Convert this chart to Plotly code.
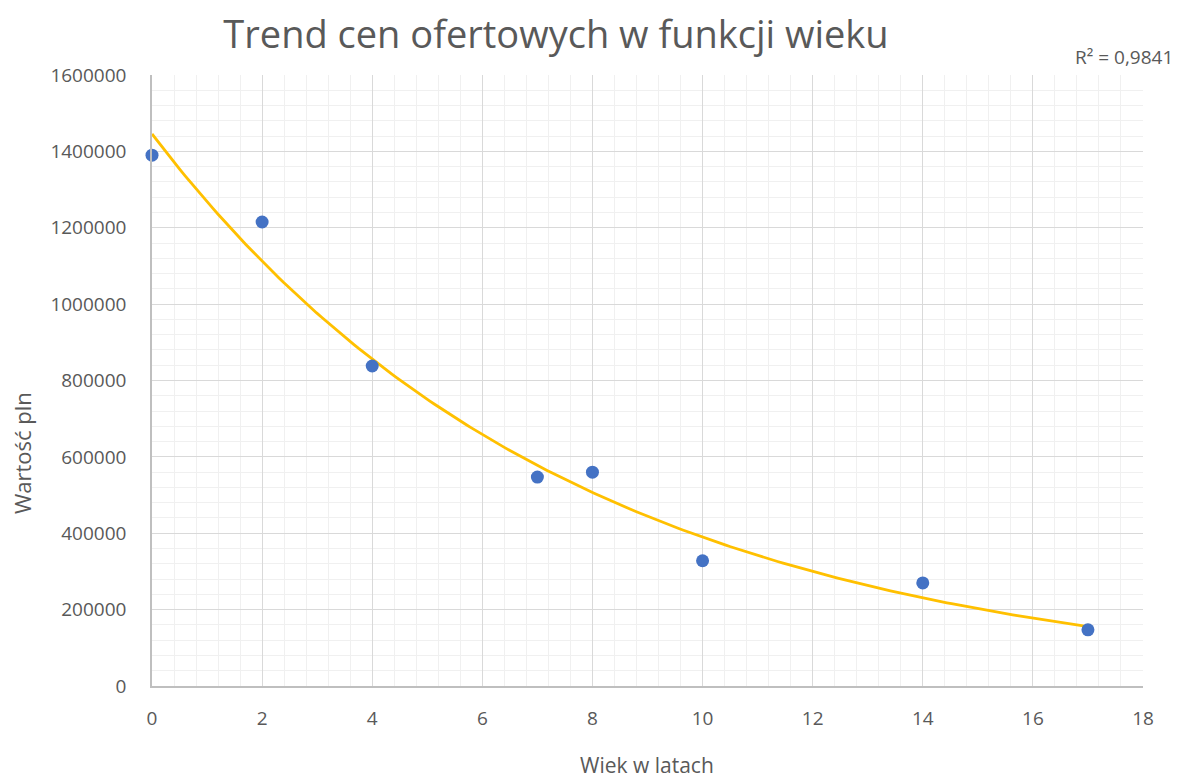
import numpy as np
import plotly.graph_objects as go

wiek = [0, 2, 4, 7, 8, 10, 14, 17]
wartosc = [1390000, 1215000, 838000, 547000, 560000, 328000, 270000, 147000]
x_ticks = [0, 2, 4, 6, 8, 10, 12, 14, 16, 18]
y_ticks = [0, 200000, 400000, 600000, 800000, 1000000, 1200000, 1400000, 1600000]

# exponential trend line (Excel style: fit of ln(y))
b, ln_a = np.polyfit(np.array(wiek, float), np.log(np.array(wartosc, float)), 1)
xt = np.linspace(min(wiek), max(wiek), 200)
yt = np.exp(ln_a) * np.exp(b * xt)

font = "Open Sans, Segoe UI, sans-serif"
grey = "#595959"
OFF = 8  # page body margin
W, H = 1179 - OFF, 782 - OFF
L, R, T, B = 152 - OFF, 36, 75 - OFF, 96
pw, ph = W - L - R, H - T - B

def px(xp):  # absolute screen x -> paper
    return (xp - OFF - L) / pw

def py(yp):  # absolute screen y -> paper
    return (H - B - (yp - OFF)) / ph

fig = go.Figure()
fig.add_trace(go.Scatter(x=xt, y=yt, mode="lines", cliponaxis=False,
                         line=dict(color="#FFC000", width=2.8), hoverinfo="skip"))
fig.add_trace(go.Scatter(x=wiek, y=wartosc, mode="markers", cliponaxis=False,
                         marker=dict(color="#4472C4", size=13)))

fig.update_layout(
    width=W, height=H,
    margin=dict(l=L, r=R, t=T, b=B),
    paper_bgcolor="white", plot_bgcolor="white",
    showlegend=False,
    font=dict(family=font, color=grey, size=19),
    title=dict(text="Trend cen ofertowych w funkcji wieku",
               x=(556 - OFF) / W, xanchor="center", y=1 - (35 - OFF) / H, yanchor="middle",
               font=dict(size=38, color=grey, family=font)),
    annotations=[
        dict(text="R² = 0,9841", xref="paper", yref="paper",
             x=px(1175), y=py(57), xanchor="right", yanchor="middle",
             showarrow=False, font=dict(size=19, color=grey, family=font)),
        dict(text="Wartość pln", xref="paper", yref="paper",
             x=px(22), y=py(453), xanchor="center", yanchor="middle", textangle=-90,
             showarrow=False, font=dict(size=22, color=grey, family=font)),
        dict(text="Wiek w latach", xref="paper", yref="paper",
             x=px(647), y=0, yshift=-(H - T - ph) + 1, xanchor="center", yanchor="bottom",
             showarrow=False, font=dict(size=21, color=grey, family=font)),
    ],
)
fig.update_xaxes(
    range=[0, 18], tickvals=x_ticks, ticks="", ticklabelstandoff=14, automargin=False,
    showgrid=True, gridcolor="#d9d9d9", gridwidth=1,
    minor=dict(dtick=0.4, tick0=0, showgrid=True, gridcolor="#f0f0f0", gridwidth=1),
    showline=True, linecolor="#bfbfbf", linewidth=1.5, zeroline=False,
    tickfont=dict(size=19, color=grey),
)
fig.update_yaxes(
    range=[0, 1600000], tickvals=y_ticks, tickformat="d", ticks="", ticklabelstandoff=20,
    automargin=False,
    showgrid=True, gridcolor="#d9d9d9", gridwidth=1,
    minor=dict(dtick=40000, tick0=0, showgrid=True, gridcolor="#f0f0f0", gridwidth=1),
    showline=True, linecolor="#bfbfbf", linewidth=1.5, zeroline=False,
    tickfont=dict(size=19, color=grey),
)
fig.write_html("out.html")
